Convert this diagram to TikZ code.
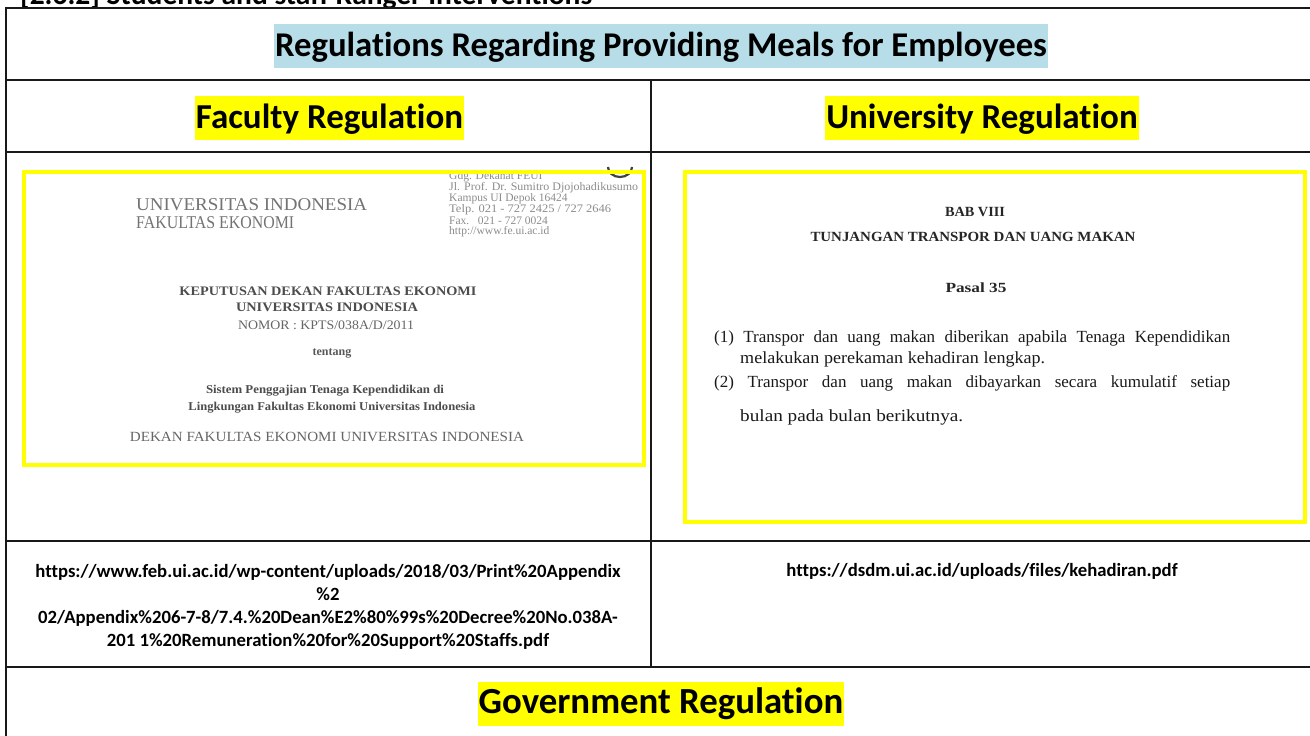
\documentclass[tikz,border=0pt]{standalone}
\usepackage{fontspec}
\usepackage{graphicx}
\setmainfont{Carlito}[Ligatures=NoCommon]
\newfontfamily\docfont{Liberation Serif}
\definecolor{titleblue}{HTML}{B7DDE8}
\definecolor{hlyellow}{HTML}{FFFF00}
\newcommand\fitto[2]{\resizebox{#1}{\height}{#2}}
\begin{document}
\begin{tikzpicture}[x=1pt,y=-1pt,
  rule/.style={line width=2.5pt, draw=black!90},
  hl/.style={font=\fontsize{35}{42}\selectfont\bfseries, inner xsep=1pt, inner ysep=0pt, text height=32pt, text depth=12pt},
  url/.style={font=\fontsize{18.7}{23}\selectfont\bfseries, align=center, inner sep=0pt},
  frame/.style={draw=hlyellow, line width=4pt},
  doc/.style={font=\docfont, inner sep=0pt},
  docgray/.style={doc, text=black!55},
  docdark/.style={doc, text=black!85},
]
\useasboundingbox (0,0) rectangle (1310,736);
\fill[white] (0,0) rectangle (1310,736);

% cut-off caption at the very top
\node[anchor=base west, inner sep=0pt, font=\fontsize{29.5}{34}\selectfont\bfseries] (cap) at (20,4.5) {[2.6.2] Students and staff Ranger Interventions};

% table rules
\draw[rule] (6,8) -- (1320,8);
\draw[rule] (6,7) -- (6,745);
\draw[rule] (6,80) -- (1320,80);
\draw[rule] (6,152) -- (1320,152);
\draw[rule] (6,541) -- (1320,541);
\draw[rule] (6,667) -- (1320,667);
\draw[rule] (651,80) -- (651,667);

% headers
\node[hl, fill=titleblue, font=\fontsize{34.7}{42}\selectfont\bfseries] (title) at (661,46) {Regulations Regarding Providing Meals for Employees};
\node[hl, fill=hlyellow] (fac) at (329.5,118) {Faculty Regulation};
\node[hl, fill=hlyellow] (uni) at (982,118) {University Regulation};
\node[hl, fill=hlyellow, font=\fontsize{36.8}{42}\selectfont\bfseries] (gov) at (661,703.5) {Government Regulation};

% ---------- faculty document image ----------
\draw[black!75, line width=2.2pt] (608,167) arc[start angle=180, end angle=0, x radius=12, y radius=10];
\node[docgray, anchor=west, font=\docfont\fontsize{18}{18}\selectfont] (fu1) at (136,205) {\fitto{231pt}{UNIVERSITAS INDONESIA}};
\node[docgray, anchor=west, font=\docfont\fontsize{18}{18}\selectfont] (fu2) at (136,223) {\fitto{158pt}{FAKULTAS EKONOMI}};
\begin{scope}[every node/.style={doc, anchor=west, text=black!45, font=\docfont\fontsize{11.5}{11.5}\selectfont}]
\node (a1) at (449,177) {Gdg. Dekanat FEUI};
\node (a2) at (449,188) {\fitto{189pt}{Jl. Prof. Dr. Sumitro Djojohadikusumo}};
\node (a3) at (449,199) {Kampus UI Depok 16424};
\node (a4) at (449,210) {\fitto{162pt}{Telp. 021 - 727 2425 / 727 2646}};
\node (a5) at (449,221) {Fax.\ \ \ 021 - 727 0024};
\node (a6) at (449,232) {http://www.fe.ui.ac.id};
\end{scope}
\node[docgray, text=black!70, font=\docfont\bfseries\fontsize{13}{13}\selectfont] (k1) at (328,291) {\fitto{297pt}{KEPUTUSAN DEKAN FAKULTAS EKONOMI}};
\node[docgray, text=black!70, font=\docfont\bfseries\fontsize{13}{13}\selectfont] (k2) at (327,307) {\fitto{182pt}{UNIVERSITAS INDONESIA}};
\node[docgray, text=black!60, font=\docfont\fontsize{13}{13}\selectfont] (k3) at (326,325) {\fitto{176pt}{NOMOR : KPTS/038A/D/2011}};
\node[docgray, text=black!65, font=\docfont\bfseries\fontsize{12}{12}\selectfont] (k4) at (332,353) {tentang};
\node[docgray, text=black!70, font=\docfont\bfseries\fontsize{12}{12}\selectfont] (k5) at (325,391) {\fitto{238pt}{Sistem Penggajian Tenaga Kependidikan di}};
\node[docgray, text=black!70, font=\docfont\bfseries\fontsize{12}{12}\selectfont] (k6) at (332,408) {\fitto{287pt}{Lingkungan Fakultas Ekonomi Universitas Indonesia}};
\node[docgray, text=black!60, font=\docfont\fontsize{14}{14}\selectfont] (k7) at (327,437) {\fitto{394pt}{DEKAN FAKULTAS EKONOMI UNIVERSITAS INDONESIA}};
\draw[frame] (24,172) rectangle (644,465);

% ---------- university document image ----------
\node[docdark, font=\docfont\bfseries\fontsize{14}{14}\selectfont] (b1) at (975,212) {\fitto{60pt}{BAB VIII}};
\node[docdark, font=\docfont\bfseries\fontsize{14}{14}\selectfont] (b2) at (973,237) {\fitto{325pt}{TUNJANGAN TRANSPOR DAN UANG MAKAN}};
\node[docdark, font=\docfont\bfseries\fontsize{14}{14}\selectfont] (b3) at (976,288) {\fitto{61pt}{Pasal 35}};
\begin{scope}[every node/.style={doc, anchor=west, text=black!90, font=\docfont\fontsize{17}{17}\selectfont}]
\node (p1) at (714,338) {\makebox[516pt][s]{(1) Transpor dan uang makan diberikan apabila Tenaga Kependidikan}};
\node (p2) at (740,359) {\fitto{305pt}{melakukan perekaman kehadiran lengkap.}};
\node (p3) at (714,383) {\makebox[516pt][s]{(2) Transpor dan uang makan dibayarkan secara kumulatif setiap}};
\node (p4) at (740,417) {\fitto{223pt}{bulan pada bulan berikutnya.}};
\end{scope}
\draw[frame] (685,172) rectangle (1305,522);

% ---------- source URLs ----------
\node[url] (u1) at (328,606.5) {https://www.feb.ui.ac.id/wp-content/uploads/2018/03/Print\%20Appendix\\
\%2\\
02/Appendix\%206-7-8/7.4.\%20Dean\%E2\%80\%99s\%20Decree\%20No.038A-\\
201 1\%20Remuneration\%20for\%20Support\%20Staffs.pdf};
\node[url] (u2) at (982,571) {https://dsdm.ui.ac.id/uploads/files/kehadiran.pdf};
\end{tikzpicture}
\end{document}
